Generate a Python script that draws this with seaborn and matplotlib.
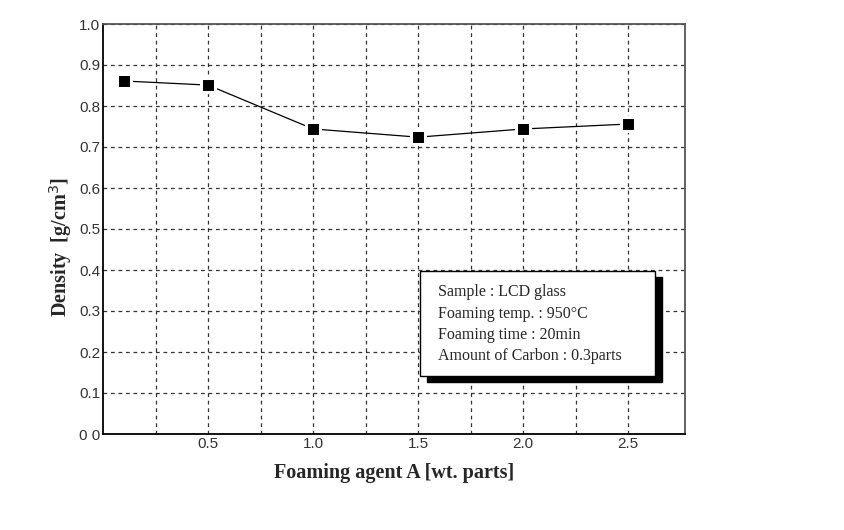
import matplotlib
matplotlib.use("Agg")
import matplotlib.pyplot as plt
import seaborn as sns
import pandas as pd
from matplotlib.patches import Rectangle

foaming_agent = [0.1, 0.5, 1.0, 1.5, 2.0, 2.5]
density = [0.861, 0.851, 0.744, 0.724, 0.744, 0.756]
x_ticks = [0.5, 1.0, 1.5, 2.0, 2.5]
x_ticklabels = ["0.5", "1.0", "1.5", "2.0", "2.5"]
y_ticks = [0.0, 0.1, 0.2, 0.3, 0.4, 0.5, 0.6, 0.7, 0.8, 0.9, 1.0]
y_ticklabels = ["0 0", "0.1", "0.2", "0.3", "0.4", "0.5", "0.6", "0.7", "0.8", "0.9", "1.0"]
info_lines = ["Sample : LCD glass", "Foaming temp. : 950\u00b0C",
              "Foaming time : 20min", "Amount of Carbon : 0.3parts"]

sns.set_style("white")
df = pd.DataFrame({"x": foaming_agent, "y": density})

fig = plt.figure(figsize=(8.44, 5.30), dpi=100)
ax = fig.add_axes([103/844, 1-434/530, (685-103)/844, (434-24)/530])

sns.lineplot(data=df, x="x", y="y", ax=ax, color="black", linewidth=0.9,
             marker="s", markersize=9.5, markeredgecolor="white",
             markeredgewidth=2.2, markerfacecolor="black")

ax.set_xlim(0, 2.77)
ax.set_ylim(0, 1.0)
ax.set_xticks(x_ticks)
ax.set_xticklabels(x_ticklabels)
ax.set_xticks([0.25, 0.75, 1.25, 1.75, 2.25], minor=True)
ax.set_yticks(y_ticks)
ax.set_yticklabels(y_ticklabels)
ax.tick_params(axis="both", which="both", length=0, labelsize=11, pad=2,
               colors="#333333")
for lbl in ax.get_xticklabels() + ax.get_yticklabels():
    lbl.set_family("Liberation Sans")
ax.grid(True, which="both", linestyle=(0, (3, 3)), color="#333333", linewidth=0.9)
ax.set_axisbelow(True)

for side in ["left", "bottom"]:
    ax.spines[side].set_color("black")
    ax.spines[side].set_linewidth(1.3)
for side in ["top", "right"]:
    ax.spines[side].set_color("#555555")
    ax.spines[side].set_linewidth(1.3)

ax.set_xlabel("Foaming agent A [wt. parts]", family="Liberation Serif",
              fontweight="bold", fontsize=14.5, labelpad=9)
ax.set_ylabel(r"Density  [g/cm$^3$]", family="Liberation Serif",
              fontweight="bold", fontsize=14.5, labelpad=4)
ax.yaxis.set_label_coords(-0.049, 0.455)

# info box with shadow (figure pixel coordinates)
W, H = 844, 530
bx0, by0, bx1, by1 = 420, 271, 655, 376
shadow = Rectangle(((bx0+7)/W, 1-(by1+6)/H), (bx1-bx0)/W, (by1-by0)/H,
                   transform=fig.transFigure, facecolor="black", edgecolor="black",
                   zorder=5)
box = Rectangle((bx0/W, 1-by1/H), (bx1-bx0)/W, (by1-by0)/H,
                transform=fig.transFigure, facecolor="white", edgecolor="black",
                linewidth=1.0, zorder=6)
fig.patches.extend([shadow, box])
for i, line in enumerate(info_lines):
    fig.text(438/W, 1-(292 + i*21.5)/H, line, family="Liberation Serif",
             fontsize=11.5, va="center", ha="left", zorder=7)

fig.savefig("out.png", dpi=100)
